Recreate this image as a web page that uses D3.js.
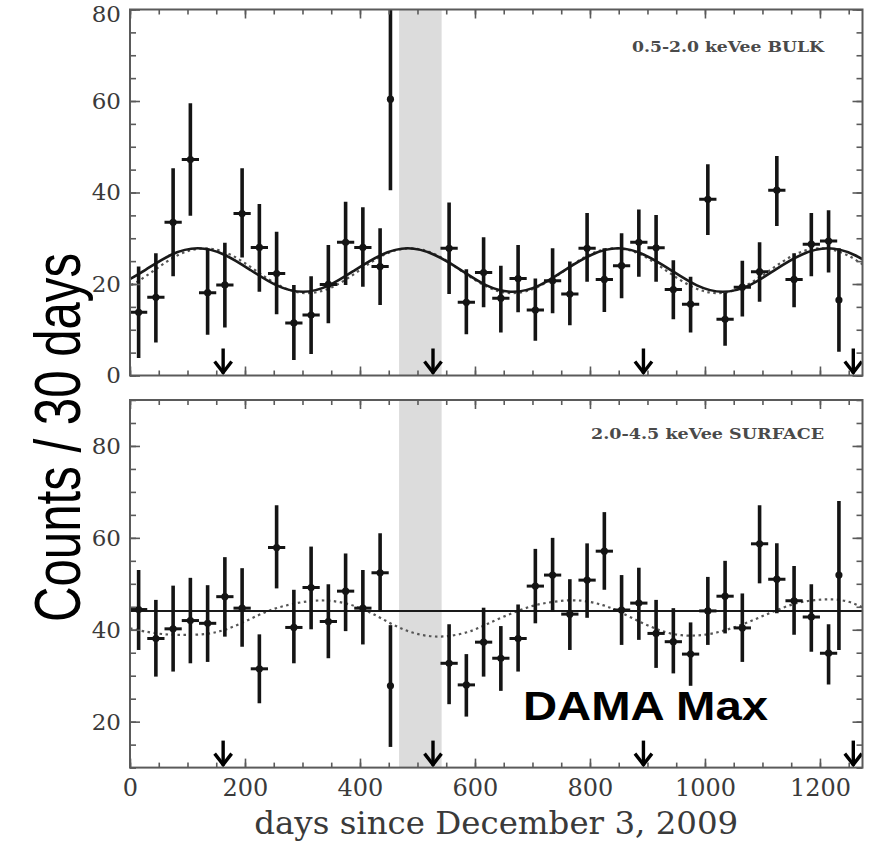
<!DOCTYPE html>
<html>
<head>
<meta charset="utf-8">
<script src="https://cdn.jsdelivr.net/npm/d3@7"></script>
<style>
  body { margin: 0; background: #fff; }
  svg { display: block; }
</style>
</head>
<body>
<svg id="chart" width="875" height="846"></svg>
<script>
// ---- data: 30-day bins, days since December 3, 2009 ----
const binDays = [15, 45, 75, 105, 135, 165, 195, 225, 255, 285, 315, 345, 375, 405, 435, 453,
  555, 585, 615, 645, 675, 705, 735, 765, 795, 825, 855, 885, 915, 945, 975, 1005, 1035,
  1065, 1095, 1125, 1155, 1185, 1215, 1233];
const partialBins = [453, 1233];          // bins cut short, drawn as a dot only
const binWidth = 30;

// 0.5-2.0 keVee bulk
const bulkCounts = [13.8, 17.1, 33.5, 47.2, 18.1, 19.8, 35.4, 28.0, 22.3, 11.5, 13.2, 19.9, 29.1, 28.0, 23.8, 60.4,
  27.8, 16.0, 22.5, 16.9, 21.2, 14.3, 20.7, 17.8, 27.8, 21.0, 24.0, 29.1, 27.9, 18.8, 15.6, 38.5, 12.3,
  19.3, 22.7, 40.5, 21.0, 28.7, 29.4, 16.5];
const bulkLow = [3.8, 7.2, 21.7, 34.9, 8.9, 10.5, 25.8, 18.3, 13.4, 3.4, 4.7, 11.4, 19.8, 19.4, 15.4, 40.5,
  17.8, 9.0, 14.9, 9.4, 13.8, 7.6, 13.6, 11.0, 20.5, 13.9, 16.9, 21.6, 20.5, 12.3, 9.4, 30.7, 6.5,
  12.9, 16.1, 32.7, 14.9, 21.7, 22.5, 5.2];
const bulkHigh = [23.8, 26.7, 45.3, 59.5, 27.8, 29.0, 45.3, 37.5, 31.4, 19.8, 21.7, 28.5, 38.0, 36.8, 32.2, 82.0,
  37.8, 23.2, 30.2, 24.0, 28.5, 21.2, 27.8, 24.9, 35.5, 27.8, 31.1, 36.3, 35.1, 25.2, 21.6, 46.2, 18.1,
  25.1, 29.1, 48.0, 26.7, 35.5, 36.1, 27.8];

// 2.0-4.5 keVee surface
const surfCounts = [44.4, 38.1, 40.2, 42.0, 41.4, 47.2, 44.7, 31.5, 57.9, 40.5, 49.2, 41.8, 48.4, 44.7, 52.4, 27.8,
  32.7, 28.0, 37.3, 33.8, 38.1, 49.5, 51.9, 43.4, 50.8, 57.1, 44.3, 45.8, 39.2, 37.4, 34.7, 44.1, 47.3,
  40.4, 58.7, 51.0, 46.3, 42.8, 34.9, 51.9];
const surfLow = [35.6, 29.8, 30.9, 32.7, 33.0, 38.5, 36.3, 24.0, 49.0, 32.7, 40.1, 33.8, 39.7, 36.8, 44.0, 14.5,
  23.8, 21.1, 29.8, 26.7, 30.9, 41.4, 43.9, 35.6, 42.6, 48.7, 36.7, 37.8, 31.7, 30.5, 27.8, 36.7, 39.2,
  33.0, 50.1, 43.6, 38.9, 35.2, 28.1, 35.6];
const surfHigh = [53.0, 46.5, 49.6, 51.3, 49.7, 55.8, 53.4, 39.0, 67.1, 48.7, 58.1, 49.9, 56.6, 53.0, 61.0, 41.0,
  41.2, 34.7, 44.8, 40.8, 45.5, 57.6, 60.0, 51.0, 58.8, 65.6, 51.9, 53.5, 46.5, 44.7, 41.6, 51.5, 55.0,
  47.9, 67.1, 58.8, 53.9, 49.9, 41.2, 68.0];

// fitted curves, [day, counts]
const bulkFitSolid = [[-19, 19.7], [27, 23.1], [72, 26.4], [118, 27.8], [164, 26.4], [209, 23.1], [255, 19.7],
  [301, 18.3], [346, 19.7], [392, 23.1], [438, 26.4], [483, 27.8], [529, 26.4], [575, 23.1], [620, 19.7],
  [666, 18.3], [712, 19.7], [757, 23.1], [803, 26.4], [849, 27.8], [894, 26.4], [940, 23.1], [986, 19.7],
  [1031, 18.3], [1077, 19.7], [1122, 23.1], [1168, 26.4], [1214, 27.8], [1259, 26.4], [1305, 23.1]];
const bulkFitDotted = [[-48, 18.0], [-4, 19.4], [41, 22.9], [85, 26.4], [130, 27.8], [175, 26.4], [219, 22.9],
  [264, 19.4], [308, 18.0], [353, 19.4], [398, 22.9], [442, 26.4], [487, 27.8], [532, 26.4], [576, 22.9],
  [621, 19.4], [665, 18.0], [710, 19.4], [755, 22.9], [799, 26.4], [844, 27.8], [889, 26.4], [933, 22.9],
  [978, 19.4], [1022, 18.0], [1067, 19.4], [1112, 22.9], [1156, 26.4], [1201, 27.8], [1246, 26.4], [1290, 22.9]];
const surfFitFlat = [[0, 44.1], [1274, 44.1]];
const surfFitDotted = [[0, 40.3], [49, 39.0], [92, 38.8], [136, 39.0], [165, 39.9], [194, 41.4], [223, 43.2],
  [252, 44.7], [281, 45.6], [320, 46.5], [360, 46.3], [394, 45.1], [423, 43.5], [452, 41.4], [481, 39.7],
  [510, 38.7], [539, 38.4], [568, 38.8], [597, 39.8], [620, 41.2], [649, 42.8], [678, 44.3], [707, 45.5],
  [736, 46.1], [765, 46.5], [794, 46.3], [823, 45.4], [846, 44.3], [872, 42.6], [901, 40.9], [930, 39.4],
  [959, 38.7], [988, 38.7], [1017, 39.2], [1046, 40.3], [1075, 41.6], [1104, 43.2], [1133, 44.7],
  [1162, 46.0], [1191, 46.5], [1220, 46.7], [1249, 46.3], [1274, 44.9]];

// excluded period and expected DAMA maxima
const gapDays = [468, 542];
const damaMaxDays = [162, 527, 893, 1258];

const xTicks = [0, 200, 400, 600, 800, 1000, 1200];
const bulkYTicks = [0, 20, 40, 60, 80];
const surfYTicks = [20, 40, 60, 80];

// ---- layout ----
const svg = d3.select("#chart");
const x = d3.scaleLinear().domain([0, 1274]).range([130, 862.5]);
const yBulk = d3.scaleLinear().domain([0, 80]).range([375.5, 9.5]);
const ySurf = d3.scaleLinear().domain([10, 90]).range([767.6, 400]);

const serif = "'DejaVu Serif', 'Liberation Serif', serif";
const axisColor = "#5a5a5a";
const markColor = "#141414";

function drawPanel(id, y, yTicks, counts, low, high, curves, label) {
  const [x0, x1] = x.range();
  const [yb, yt] = y.range();
  const g = svg.append("g").attr("class", "panel-" + id);

  svg.append("defs").append("clipPath").attr("id", "clip-" + id)
    .append("rect").attr("x", x0).attr("y", yt).attr("width", x1 - x0).attr("height", yb - yt);

  const plot = g.append("g").attr("clip-path", `url(#clip-${id})`);

  // excluded period
  plot.append("rect")
    .attr("x", x(gapDays[0])).attr("y", yt)
    .attr("width", x(gapDays[1]) - x(gapDays[0])).attr("height", yb - yt)
    .attr("fill", "#dcdcdc");

  // fits
  curves.forEach(c => {
    plot.append("path")
      .datum(c.data)
      .attr("fill", "none")
      .attr("stroke", c.color)
      .attr("stroke-width", c.width)
      .attr("stroke-dasharray", c.dash || null)
      .attr("d", d3.line().x(d => x(d[0])).y(d => y(d[1])).curve(c.curve)(c.data));
  });

  // data points with error bars
  const pts = binDays.map((d, i) => ({ day: d, v: counts[i], lo: low[i], hi: high[i],
    full: !partialBins.includes(d) }));
  const pg = plot.append("g").selectAll("g").data(pts).join("g");
  pg.append("line")
    .attr("x1", d => x(d.day)).attr("x2", d => x(d.day))
    .attr("y1", d => y(d.lo)).attr("y2", d => y(d.hi))
    .attr("stroke", markColor).attr("stroke-width", 3.6);
  pg.filter(d => d.full).append("line")
    .attr("x1", d => x(d.day - binWidth / 2)).attr("x2", d => x(d.day + binWidth / 2))
    .attr("y1", d => y(d.v)).attr("y2", d => y(d.v))
    .attr("stroke", markColor).attr("stroke-width", 3);
  pg.append("circle")
    .attr("cx", d => x(d.day)).attr("cy", d => y(d.v)).attr("r", 3.6)
    .attr("fill", markColor);

  // DAMA maxima arrows
  const ag = g.append("g").attr("fill", "none").attr("stroke", "#000")
    .attr("stroke-width", 3.4).attr("stroke-linecap", "butt").attr("stroke-linejoin", "miter");
  damaMaxDays.forEach(d => {
    const ax = x(d);
    ag.append("path").attr("d", `M${ax},${yb - 27}V${yb - 2}`);
    ag.append("path").attr("d", `M${ax - 8.5},${yb - 14}L${ax},${yb - 3}L${ax + 8.5},${yb - 14}`);
  });

  // ticks on all four sides, pointing inward
  const minorY = d3.range(y.domain()[0], y.domain()[1] + 0.1, 5);
  const minorX = d3.range(0, 1274, 50);
  const axes = g.append("g").attr("color", axisColor);
  const strip = sel => sel.call(s => s.select(".domain").remove());
  axes.append("g").attr("transform", `translate(${x0},0)`)
    .call(d3.axisLeft(y).tickValues(minorY).tickSize(-6).tickFormat("")).call(strip);
  axes.append("g").attr("transform", `translate(${x1},0)`)
    .call(d3.axisRight(y).tickValues(minorY).tickSize(-6).tickFormat("")).call(strip);
  axes.append("g").attr("transform", `translate(${x1},0)`)
    .call(d3.axisRight(y).tickValues(yTicks).tickSize(-10).tickFormat("")).call(strip);
  axes.append("g").attr("transform", `translate(0,${yt})`)
    .call(d3.axisTop(x).tickValues(minorX).tickSize(-5).tickFormat("")).call(strip);
  axes.append("g").attr("transform", `translate(0,${yt})`)
    .call(d3.axisTop(x).tickValues(xTicks).tickSize(-9).tickFormat("")).call(strip);
  axes.append("g").attr("transform", `translate(0,${yb})`)
    .call(d3.axisBottom(x).tickValues(minorX).tickSize(-5).tickFormat("")).call(strip);
  axes.append("g").attr("transform", `translate(0,${yb})`)
    .call(d3.axisBottom(x).tickValues(xTicks).tickSize(-9).tickFormat("")).call(strip);
  axes.selectAll("line").attr("stroke-width", 1.6);

  const left = axes.append("g").attr("transform", `translate(${x0},0)`)
    .call(d3.axisLeft(y).tickValues(yTicks).tickSize(-10).tickPadding(9)).call(strip);
  left.selectAll("line").attr("stroke-width", 1.6);
  left.selectAll("text").attr("font-family", serif).attr("font-size", 23).attr("fill", "#3a3a3a");
  // keep the topmost label inside the page
  left.selectAll(".tick").filter(d => y(d) < 20).select("text").attr("dy", "0.5em");

  // frame
  g.append("rect").attr("x", x0).attr("y", yt).attr("width", x1 - x0).attr("height", yb - yt)
    .attr("fill", "none").attr("stroke", axisColor).attr("stroke-width", 2);

  // panel label
  g.append("text")
    .attr("x", label.x).attr("y", label.y)
    .attr("text-anchor", "end")
    .attr("font-family", serif).attr("font-weight", "bold").attr("font-size", 15.5)
    .attr("fill", "#4a4a4a")
    .attr("textLength", label.len).attr("lengthAdjust", "spacingAndGlyphs")
    .text(label.text);

  return { yb };
}

drawPanel("bulk", yBulk, bulkYTicks, bulkCounts, bulkLow, bulkHigh, [
  { data: bulkFitDotted, color: "#555", width: 2.2, dash: "2.5,3.5", curve: d3.curveNatural },
  { data: bulkFitSolid, color: "#1a1a1a", width: 2.6, curve: d3.curveNatural }
], { text: "0.5-2.0 keVee BULK", x: 824, y: 51.5, len: 192 });

const bottom = drawPanel("surf", ySurf, surfYTicks, surfCounts, surfLow, surfHigh, [
  { data: surfFitDotted, color: "#555", width: 2.2, dash: "2.5,3.5", curve: d3.curveBasis },
  { data: surfFitFlat, color: "#1a1a1a", width: 2, curve: d3.curveLinear }
], { text: "2.0-4.5 keVee SURFACE", x: 824, y: 439, len: 233 });

// x tick labels under the lower panel
const xl = svg.append("g").attr("transform", `translate(0,${bottom.yb})`)
  .call(d3.axisBottom(x).tickValues(xTicks).tickSize(0).tickPadding(11).tickFormat(d3.format("d")));
xl.select(".domain").remove();
xl.selectAll("text").attr("font-family", serif).attr("font-size", 24).attr("fill", "#3a3a3a");

// axis titles
svg.append("text")
  .attr("x", (x.range()[0] + x.range()[1]) / 2).attr("y", 834)
  .attr("text-anchor", "middle")
  .attr("font-family", serif).attr("font-size", 31).attr("fill", "#3a3a3a")
  .attr("textLength", 484).attr("lengthAdjust", "spacingAndGlyphs")
  .text("days since December 3, 2009");

svg.append("text")
  .attr("transform", "translate(80,437.5) rotate(-90) scale(1,1.33)")
  .attr("text-anchor", "middle")
  .attr("font-family", "'Liberation Sans', Arial, sans-serif").attr("font-size", 49)
  .attr("fill", "#000")
  .attr("textLength", 369).attr("lengthAdjust", "spacingAndGlyphs")
  .text("Counts / 30 days");

svg.append("text")
  .attr("x", 523).attr("y", 720)
  .attr("font-family", "'Liberation Sans', Arial, sans-serif").attr("font-weight", "bold")
  .attr("font-size", 40).attr("fill", "#000")
  .attr("textLength", 245).attr("lengthAdjust", "spacingAndGlyphs")
  .text("DAMA Max");
</script>
</body>
</html>
